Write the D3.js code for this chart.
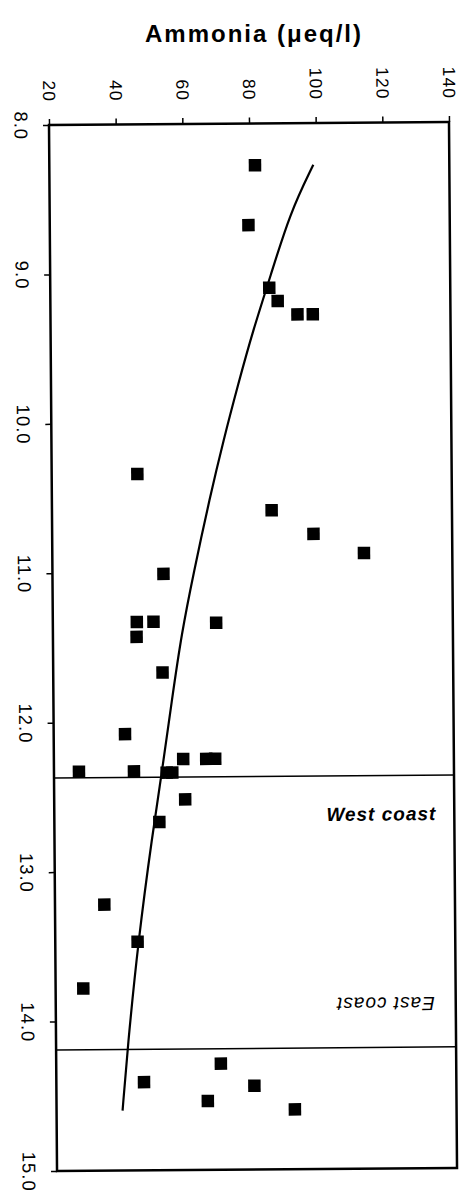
<!DOCTYPE html>
<meta charset="utf-8">
<style>
  body { margin: 0; background: #fff; }
  text { font-family: "Liberation Sans", Arial, sans-serif; fill: #000; }
</style>
<svg width="472" height="1199"></svg>
<script src="https://cdnjs.cloudflare.com/ajax/libs/d3/7.8.5/d3.min.js"></script>
<script>

// measured points (ammonia, position on the vertical axis)
var ammonia = [81.7, 79.6, 85.7, 88.2, 94.1, 98.7,
               45.7, 85.9, 98.4, 113.5, 53.3,
               50.2, 69.0, 45.2, 45.1, 52.8, 41.4,
               27.5, 44.0, 58.8, 65.7, 68.4, 53.8, 55.5,
               59.3, 51.5, 34.8, 44.7, 28.3,
               46.3, 69.4, 79.4, 65.4, 91.5];
var yVal = [8.28, 8.68, 9.10, 9.19, 9.28, 9.28,
            10.34, 10.59, 10.75, 10.88, 11.01,
            11.33, 11.34, 11.33, 11.43, 11.67, 12.08,
            12.33, 12.33, 12.25, 12.25, 12.25, 12.34, 12.34,
            12.52, 12.67, 13.22, 13.47, 13.78,
            14.41, 14.29, 14.44, 14.54, 14.60];

// trend curve
var fitAmmonia = [99.2, 92.1, 86.0, 80.8, 76.2, 71.6, 67.4, 62.3, 58.6, 55.5, 52.3, 49.4, 44.9, 41.4, 39.8];
var fitY = [8.28, 8.60, 9.03, 9.38, 9.74, 10.12, 10.50, 11.01, 11.41, 11.86, 12.35, 12.75, 13.46, 14.19, 14.60];

var ammoniaTicks = [20, 40, 60, 80, 100, 120, 140];
var yTicks = [8, 9, 10, 11, 12, 13, 14, 15];
var westLine = 12.37, eastLine = 14.19;

var svg = d3.select("svg"),
    width = 400,
    height = 1046;

var x = d3.scaleLinear().domain([20, 140]).range([0, width]);
var y = d3.scaleLinear().domain([8, 15]).range([0, height]);

svg.append("text")
    .attr("x", 254)
    .attr("y", 42)
    .attr("text-anchor", "middle")
    .style("font-size", "24px")
    .style("font-weight", "bold")
    .style("letter-spacing", "2px")
    .text("Ammonia (\u03bceq/l)");

// the scan is a little tilted
var g = svg.append("g").attr("transform", "translate(49,125) rotate(-0.44)");

var topAxis = g.append("g")
    .call(d3.axisTop(x).tickValues(ammoniaTicks).tickSize(6).tickSizeOuter(0));
topAxis.select(".domain").remove();
topAxis.selectAll("line").attr("stroke-width", 1.5);
topAxis.selectAll("text")
    .attr("x", null).attr("y", null).attr("dy", "0.35em")
    .attr("text-anchor", "end")
    .attr("transform", "translate(0,-23) rotate(90)")
    .style("font-size", "17.5px")
    .style("letter-spacing", "1px");

var leftAxis = g.append("g")
    .call(d3.axisLeft(y).tickValues(yTicks).tickSize(6).tickSizeOuter(0).tickFormat(d3.format(".1f")));
leftAxis.select(".domain").remove();
leftAxis.selectAll("line").attr("stroke-width", 1.5);
leftAxis.selectAll("text")
    .attr("x", null).attr("y", null).attr("dy", "0.35em")
    .attr("text-anchor", "middle")
    .attr("transform", "translate(-28,0) rotate(90)")
    .style("font-size", "18.5px")
    .style("letter-spacing", "1px");

g.append("rect")
    .attr("width", width)
    .attr("height", height)
    .attr("fill", "none")
    .attr("stroke", "#000")
    .attr("stroke-width", 2.5);

g.selectAll(".divider")
    .data([westLine, eastLine])
  .enter().append("line")
    .attr("class", "divider")
    .attr("x1", 0).attr("x2", width)
    .attr("y1", function(d) { return y(d); })
    .attr("y2", function(d) { return y(d); })
    .attr("stroke", "#000")
    .attr("stroke-width", 1.5);

var line = d3.line()
    .x(function(d) { return x(fitAmmonia[d]); })
    .y(function(d) { return y(fitY[d]); })
    .curve(d3.curveBasis);

g.append("path")
    .datum(d3.range(fitY.length))
    .attr("d", line)
    .attr("fill", "none")
    .attr("stroke", "#000")
    .attr("stroke-width", 2.2);

var s = 12.5;
g.selectAll(".pt")
    .data(d3.range(ammonia.length))
  .enter().append("rect")
    .attr("class", "pt")
    .attr("x", function(i) { return x(ammonia[i]) - s / 2; })
    .attr("y", function(i) { return y(yVal[i]) - s / 2; })
    .attr("width", s)
    .attr("height", s)
    .attr("fill", "#000");

g.append("text")
    .attr("x", 382)
    .attr("y", 698)
    .attr("text-anchor", "end")
    .style("font-size", "19px")
    .style("font-weight", "bold")
    .style("font-style", "italic")
    .style("letter-spacing", "1px")
    .text("West coast");

g.append("text")
    .attr("transform", "translate(379,875) rotate(180)")
    .attr("text-anchor", "start")
    .style("font-size", "19px")
    .style("font-style", "italic")
    .style("letter-spacing", "1px")
    .text("East coast");

</script>
